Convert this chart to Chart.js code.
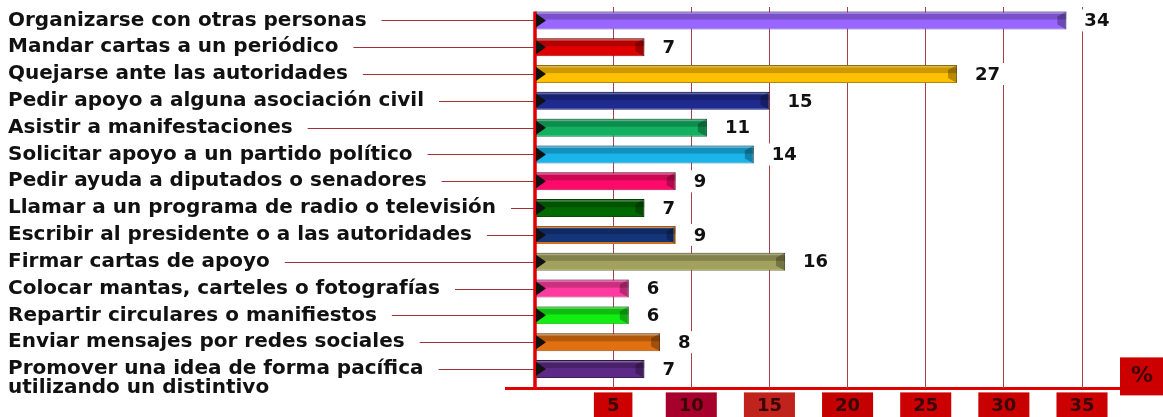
<!DOCTYPE html>
<html><head><meta charset="utf-8">
<script src="https://cdn.jsdelivr.net/npm/chart.js@4/dist/chart.umd.min.js"></script>
<style>html,body{margin:0;padding:0;background:#fff;overflow:hidden}</style>
</head><body><canvas id="c" width="1163" height="417"></canvas>
<script>
const categories = [
  "Organizarse con otras personas",
  "Mandar cartas a un periódico",
  "Quejarse ante las autoridades",
  "Pedir apoyo a alguna asociación civil",
  "Asistir a manifestaciones",
  "Solicitar apoyo a un partido político",
  "Pedir ayuda a diputados o senadores",
  "Llamar a un programa de radio o televisión",
  "Escribir al presidente o a las autoridades",
  "Firmar cartas de apoyo",
  "Colocar mantas, carteles o fotografías",
  "Repartir circulares o manifiestos",
  "Enviar mensajes por redes sociales",
  ["", "Promover una idea de forma pacífica", "utilizando un distintivo"]
];
const values = [34, 7, 27, 15, 11, 14, 9, 7, 9, 16, 6, 6, 8, 7];
const barColors = ['#9966ff','#e00000','#ffc000','#1f2a90','#12b060','#18b4ea','#ff0a6a',
                   '#006a00','#15357a','#a2a25e','#ff3aa0','#12ee12','#e07010','#5c2a86'];
const barBorders = ['#6e4fc0','#a01010','#b08a10','#18206a','#0d7a45','#1a7fa8','#b0104a',
                    '#0a4a0a','#d0701e','#7a7a40','#b02a70','#10a810','#9a5018','#3e1c5e'];
const barBorderWidths = [1,1,1,1,1,1,1,1,2,1,1,1,1,1];
const xTickValues = [5, 10, 15, 20, 25, 30, 35];
const tickBoxColors = ['#cc0000','#a8002c','#c0221c','#c40000','#cc0000','#c80000','#cc0000'];
const unitLabel = '%';

const FAMILY = "'DejaVu Sans', sans-serif";

const deco = {
  id: 'deco',
  beforeDraw(chart) {
    const {ctx, chartArea: a} = chart;
    ctx.save();
    ctx.strokeStyle = '#e00000';
    ctx.lineWidth = 3;
    ctx.beginPath();
    ctx.moveTo(a.left - 30, a.bottom + 6);
    ctx.lineTo(a.right + 38, a.bottom + 6);
    ctx.stroke();
    ctx.restore();
  },
  afterDatasetsDraw(chart) {
    const {ctx, chartArea: a} = chart;
    const meta = chart.getDatasetMeta(0);
    ctx.save();
    meta.data.forEach((bar) => {
      const p = bar.getProps(['x', 'y', 'base', 'height'], true);
      const h = p.height, top = p.y - h / 2, bot = p.y + h / 2, L = p.base, R = p.x;
      ctx.fillStyle = 'rgba(0,0,0,0.2)';
      ctx.fillRect(L, top, R - L, h * 0.45);
      ctx.fillStyle = 'rgba(255,255,255,0.3)';
      ctx.fillRect(L, top + 1, R - L, 1.5);
      ctx.fillStyle = 'rgba(0,0,0,0.28)';
      ctx.beginPath();
      ctx.moveTo(R, top); ctx.lineTo(R - 9, top + 5); ctx.lineTo(R - 9, bot - 5); ctx.lineTo(R, bot);
      ctx.closePath(); ctx.fill();
    });
    const ys = chart.scales.y;
    ctx.font = 'bold 20px ' + FAMILY;
    ctx.strokeStyle = '#a0303a';
    ctx.lineWidth = 1;
    categories.forEach((lab, i) => {
      const text = Array.isArray(lab) ? lab[1] : lab;
      const w = ctx.measureText(text).width;
      const y = Math.round(ys.getPixelForTick(i)) + 0.5;
      ctx.beginPath();
      ctx.moveTo(ys.left + w + 15, y);
      ctx.lineTo(a.left, y);
      ctx.stroke();
    });
    const first = meta.data[0].getProps(['y', 'height'], true);
    ctx.strokeStyle = '#e00000';
    ctx.lineWidth = 3.5;
    ctx.beginPath();
    ctx.moveTo(a.left, first.y - first.height / 2);
    ctx.lineTo(a.left, a.bottom + 7);
    ctx.stroke();
    ctx.font = 'bold 18px ' + FAMILY;
    ctx.textBaseline = 'middle';
    ctx.textAlign = 'left';
    meta.data.forEach((bar, i) => {
      const p = bar.getProps(['x', 'y', 'base'], true);
      ctx.fillStyle = '#111';
      ctx.beginPath();
      ctx.moveTo(p.base + 1, p.y - 7); ctx.lineTo(p.base + 11, p.y); ctx.lineTo(p.base + 1, p.y + 7);
      ctx.closePath(); ctx.fill();
      const txt = String(values[i]);
      const tw = ctx.measureText(txt).width;
      const tx = p.x + 18;
      ctx.fillStyle = '#fff';
      ctx.fillRect(tx - 4, p.y - 11, tw + 8, 22);
      ctx.fillStyle = '#111';
      ctx.fillText(txt, tx, p.y + 1);
    });
    ctx.restore();
  },
  afterDraw(chart) {
    const {ctx, chartArea: a} = chart;
    ctx.save();
    const bx = a.right + 38, by = a.bottom - 25;
    ctx.fillStyle = '#cc0000';
    ctx.fillRect(bx, by, 45, 38);
    ctx.fillStyle = '#3a0606';
    ctx.font = 'bold 22px ' + FAMILY;
    ctx.textAlign = 'center';
    ctx.textBaseline = 'middle';
    ctx.fillText(unitLabel, bx + 22, by + 19);
    ctx.restore();
  }
};

new Chart(document.getElementById('c'), {
  type: 'bar',
  data: {
    labels: categories,
    datasets: [{
      data: values,
      backgroundColor: barColors,
      borderColor: barBorders,
      borderWidth: barBorderWidths,
      barPercentage: 0.67,
      categoryPercentage: 1
    }]
  },
  options: {
    indexAxis: 'y',
    responsive: false,
    animation: false,
    devicePixelRatio: 1,
    layout: { padding: { left: 8, right: 81, top: 7, bottom: -7 } },
    plugins: { legend: { display: false }, tooltip: { enabled: false } },
    scales: {
      x: {
        type: 'linear',
        min: 0, max: 35,
        afterBuildTicks: (s) => { s.ticks = xTickValues.map(v => ({ value: v })); },
        afterFit: (s) => { s.paddingLeft = 0; s.paddingRight = 0; },
        grid: { color: '#a8404c', lineWidth: 1, drawTicks: true, tickLength: 6, tickColor: '#a8404c' },
        border: { display: false },
        ticks: {
          autoSkip: false, maxRotation: 0, padding: 7,
          color: '#3a0606',
          font: { family: FAMILY, weight: 'bold', size: 18 },
          showLabelBackdrop: true,
          backdropColor: (c) => tickBoxColors[c.index] || '#cc0000',
          backdropPadding: { top: 3, bottom: 14, left: 13, right: 13 }
        }
      },
      y: {
        type: 'category',
        grid: { display: false, drawTicks: false },
        border: { display: false },
        afterFit: (s) => { s.width = 527; s.paddingTop = 0; s.paddingBottom = 0; },
        ticks: {
          autoSkip: false, padding: 0, crossAlign: 'far',
          color: '#111',
          font: { family: FAMILY, weight: 'bold', size: 20, lineHeight: 0.95 }
        }
      }
    }
  },
  plugins: [deco]
});
</script>
</body></html>
